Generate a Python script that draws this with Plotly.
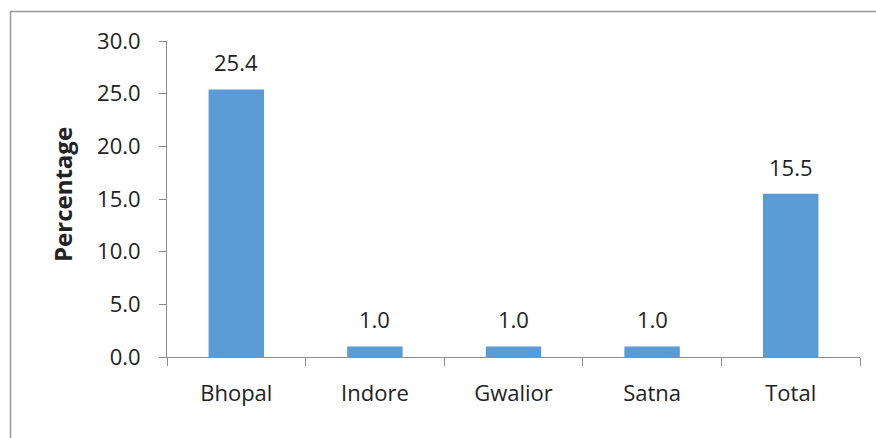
import plotly.graph_objects as go

# Share of respondents by district
districts = ["Bhopal", "Indore", "Gwalior", "Satna", "Total"]
percentages = [25.4, 1.0, 1.0, 1.0, 15.5]
y_ticks = [0, 5, 10, 15, 20, 25, 30]

W, H = 876, 438
L, R, T, B = 167, 16, 41, 81
pw, ph = W - L - R, H - T - B

FONT = "Open Sans"
TXT = "#222222"
AXIS = "#8c8c8c"


def px_x(p):
    return (p - L) / pw


def px_y(p):
    return (H - B - p) / ph


fig = go.Figure(
    go.Bar(
        x=districts,
        y=percentages,
        marker=dict(color="#5b9bd5", line=dict(width=0)),
        width=0.4,
        hoverinfo="x+y",
    )
)

# Value labels above each bar
for d, v in zip(districts, percentages):
    fig.add_annotation(
        x=d, y=v, text=f"{v:.1f}", showarrow=False,
        yanchor="middle", yshift=27,
        font=dict(family=FONT, size=22, color=TXT),
    )

# Axis title
fig.add_annotation(
    xref="paper", yref="paper",
    x=px_x(62), y=px_y(195),
    text="<b>Percentage</b>", textangle=-90, showarrow=False,
    xanchor="center", yanchor="middle",
    font=dict(family=FONT, size=24, color=TXT),
)

# Outer chart frame: left and top edges
fig.add_shape(type="line", xref="paper", yref="paper",
              x0=px_x(10.5), x1=px_x(10.5), y0=px_y(H), y1=px_y(11),
              line=dict(color="#999999", width=1.5))
fig.add_shape(type="line", xref="paper", yref="paper",
              x0=px_x(10), x1=px_x(W), y0=px_y(11.5), y1=px_y(11.5),
              line=dict(color="#999999", width=1.5))

fig.update_layout(
    width=W, height=H,
    margin=dict(l=L, r=R, t=T, b=B),
    paper_bgcolor="white",
    plot_bgcolor="white",
    showlegend=False,
    bargap=0.6,
)

fig.update_xaxes(
    type="category",
    showline=True, linecolor=AXIS, linewidth=1,
    ticks="outside", tickson="boundaries", ticklen=8, tickcolor=AXIS,
    showgrid=False, zeroline=False,
    tickfont=dict(family=FONT, size=22, color=TXT),
    ticklabelstandoff=17,
    fixedrange=True,
)

fig.update_yaxes(
    range=[0, 30],
    tickvals=y_ticks,
    ticktext=[f"{t:.1f}" for t in y_ticks],
    showline=True, linecolor=AXIS, linewidth=1,
    ticks="outside", ticklen=7, tickcolor=AXIS,
    showgrid=False, zeroline=False,
    tickfont=dict(family=FONT, size=22, color=TXT),
    ticklabelstandoff=14,
    fixedrange=True,
)

fig.write_html("out.html", config={"displayModeBar": False})
